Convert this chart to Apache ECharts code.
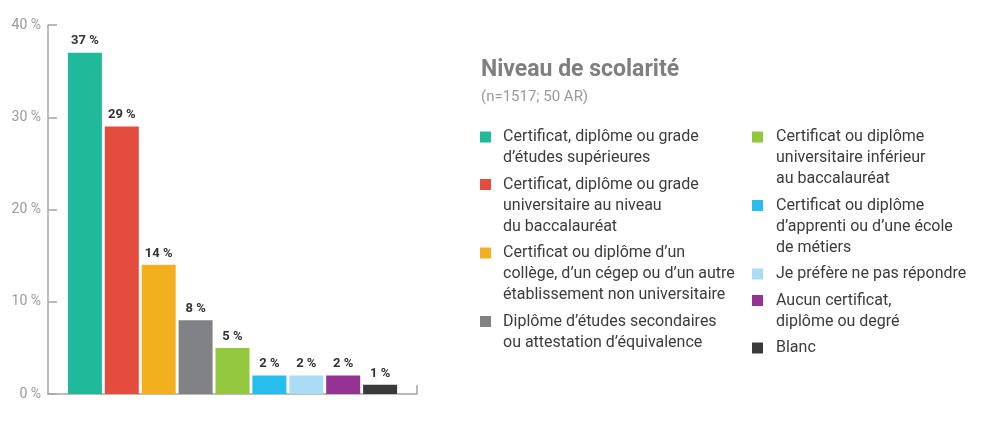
<!DOCTYPE html>
<html>
<head>
<meta charset="utf-8">
<script src="https://cdn.jsdelivr.net/npm/echarts@6/dist/echarts.min.js"></script>
<style>html,body{margin:0;padding:0;background:#fff}#c{width:994px;height:442px}</style>
</head>
<body>
<div id="c"></div>
<script>
const categories = [
  "Certificat, diplôme ou grade\nd’études supérieures",
  "Certificat, diplôme ou grade\nuniversitaire au niveau\ndu baccalauréat",
  "Certificat ou diplôme d’un\ncollège, d’un cégep ou d’un autre\nétablissement non universitaire",
  "Diplôme d’études secondaires\nou attestation d’équivalence",
  "Certificat ou diplôme\nuniversitaire inférieur\nau baccalauréat",
  "Certificat ou diplôme\nd’apprenti ou d’une école\nde métiers",
  "Je préfère ne pas répondre",
  "Aucun certificat,\ndiplôme ou degré",
  "Blanc"
];
const values = [37, 29, 14, 8, 5, 2, 2, 2, 1];
const colors = ["#20b99a", "#e44d3e", "#f2b01e", "#808285", "#93c83e", "#27bdef", "#abdcf5", "#953393", "#3a3a3a"];
const yTicks = [0, 10, 20, 30, 40];
const title = "Niveau de scolarité";
const subtitle = "(n=1517; 50 AR)";

const FONT = "Roboto, 'DejaVu Sans', sans-serif";
const chart = echarts.init(document.getElementById('c'), null, {renderer: 'canvas'});

const graphics = [];
graphics.push({type: 'text', left: 481, top: 59, style: {text: title, font: "bold 23px " + FONT, fill: '#7f7f7f'}});
graphics.push({type: 'text', left: 481, top: 90, style: {text: subtitle, font: "15px " + FONT, fill: '#9a9a9a'}});
const cols = [{sq: 480, tx: 503, items: [0,1,2,3]}, {sq: 752, tx: 776, items: [4,5,6,7,8]}];
const lineH = 21, gap = 5.5;
cols.forEach(col => {
  let y = 137;
  col.items.forEach(i => {
    const n = categories[i].split('\n').length;
    graphics.push({type: 'rect', shape: {x: col.sq, y: y - 5.5, width: 11, height: 11}, style: {fill: colors[i]}});
    graphics.push({type: 'text', x: col.tx, y: y - lineH / 2, style: {text: categories[i], font: "16px " + FONT, fill: '#3c3c3c', lineHeight: lineH, verticalAlign: 'top'}});
    y += n * lineH + gap;
  });
});

chart.setOption({
  animation: false,
  grid: {left: 48, width: 369, top: 25, bottom: 48, containLabel: false},
  xAxis: {
    type: 'value', min: -1, max: 9,
    axisLine: {show: true, onZero: false, lineStyle: {color: '#a7a7a7', width: 1.5}},
    axisTick: {show: true, inside: true, length: 9, customValues: [9], lineStyle: {color: '#a7a7a7', width: 1.5}},
    axisLabel: {show: false},
    splitLine: {show: false}
  },
  yAxis: {
    type: 'value', min: 0, max: 40, interval: 10,
    axisLine: {show: true, onZero: false, lineStyle: {color: '#a7a7a7', width: 1.5}},
    axisTick: {show: true, inside: true, length: 9, lineStyle: {color: '#a7a7a7', width: 1.5}},
    axisLabel: {color: '#9a9a9a', fontSize: 14, fontFamily: FONT, margin: 7, customValues: yTicks, formatter: v => v + ' %'},
    splitLine: {show: false}
  },
  series: [{
    type: 'bar',
    barWidth: 34,
    data: values.map((v, i) => ({value: [i, v], itemStyle: {color: colors[i]}})),
    label: {show: true, position: 'top', distance: 5, color: '#333', fontWeight: 'bold', fontSize: 13, fontFamily: FONT, formatter: p => p.value[1] + ' %'}
  }],
  graphic: graphics
});
</script>
</body>
</html>
